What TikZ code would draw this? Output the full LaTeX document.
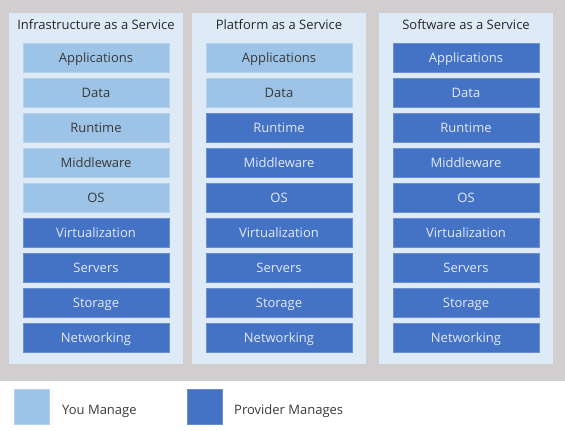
\documentclass[tikz,border=0pt]{standalone}
\usepackage{fontspec}
\setmainfont{Open Sans}
\definecolor{bggray}{HTML}{D0CECE}
\definecolor{panelblue}{HTML}{DEEBF7}
\definecolor{lightbox}{HTML}{9DC3E6}
\definecolor{lightedge}{HTML}{B4D1EE}
\definecolor{darkbox}{HTML}{4472C4}
\definecolor{darkedge}{HTML}{6A8FD3}
\definecolor{darktext}{HTML}{E3EAF7}
\definecolor{lighttext}{HTML}{3A3A3A}
\definecolor{titletext}{HTML}{262626}
\begin{document}
\begin{tikzpicture}[x=1pt,y=-1pt,
  txt/.style={font=\fontsize{13}{15}\selectfont},
  panel/.style={fill=panelblue, draw=none, minimum width=174pt, minimum height=351pt, inner sep=0pt},
  layer/.style={txt, minimum width=146pt, minimum height=29pt, inner sep=0pt, line width=0.8pt, text height=10pt, text depth=0pt},
  you/.style={layer, fill=lightbox, draw=lightedge, text=lighttext},
  prov/.style={layer, fill=darkbox, draw=darkedge, text=darktext},
  coltitle/.style={txt, text=titletext, inner sep=0pt, anchor=base},
  legbox/.style={minimum width=35pt, minimum height=35pt, inner sep=0pt, line width=0.8pt},
  legtext/.style={txt, text=lighttext, anchor=base west, inner sep=0pt}
]
\useasboundingbox (0,0) rectangle (565,431);
\fill[bggray] (0,0) rectangle (565,381);
\node[panel] (p1) at (96,188.5) {};
\node[panel] (p2) at (279,188.5) {};
\node[panel] (p3) at (466,188.5) {};
\node[coltitle] (t1) at (96,29.5) {Infrastructure as a Service};
\node[coltitle] (t2) at (279,29.5) {Platform as a Service};
\node[coltitle] (t3) at (466,29.5) {Software as a Service};
% IaaS
\node[you]  (a1) at (96,57.5)  {Applications};
\node[you]  (a2) at (96,92.5)  {Data};
\node[you]  (a3) at (96,127.5) {Runtime};
\node[you]  (a4) at (96,162.5) {Middleware};
\node[you]  (a5) at (96,197.5) {OS};
\node[prov] (a6) at (96,232.5) {Virtualization};
\node[prov] (a7) at (96,267.5) {Servers};
\node[prov] (a8) at (96,302.5) {Storage};
\node[prov] (a9) at (96,337.5) {Networking};
% PaaS
\node[you]  (b1) at (279,57.5)  {Applications};
\node[you]  (b2) at (279,92.5)  {Data};
\node[prov] (b3) at (279,127.5) {Runtime};
\node[prov] (b4) at (279,162.5) {Middleware};
\node[prov] (b5) at (279,197.5) {OS};
\node[prov] (b6) at (279,232.5) {Virtualization};
\node[prov] (b7) at (279,267.5) {Servers};
\node[prov] (b8) at (279,302.5) {Storage};
\node[prov] (b9) at (279,337.5) {Networking};
% SaaS
\node[prov] (c1) at (466,57.5)  {Applications};
\node[prov] (c2) at (466,92.5)  {Data};
\node[prov] (c3) at (466,127.5) {Runtime};
\node[prov] (c4) at (466,162.5) {Middleware};
\node[prov] (c5) at (466,197.5) {OS};
\node[prov] (c6) at (466,232.5) {Virtualization};
\node[prov] (c7) at (466,267.5) {Servers};
\node[prov] (c8) at (466,302.5) {Storage};
\node[prov] (c9) at (466,337.5) {Networking};
% legend
\node[legbox, fill=lightbox, draw=lightedge] (l1) at (31.5,406.5) {};
\node[legtext] (lt1) at (62,414) {You Manage};
\node[legbox, fill=darkbox, draw=darkedge] (l2) at (204.5,406.5) {};
\node[legtext] (lt2) at (234,414) {Provider Manages};
\end{tikzpicture}
\end{document}
